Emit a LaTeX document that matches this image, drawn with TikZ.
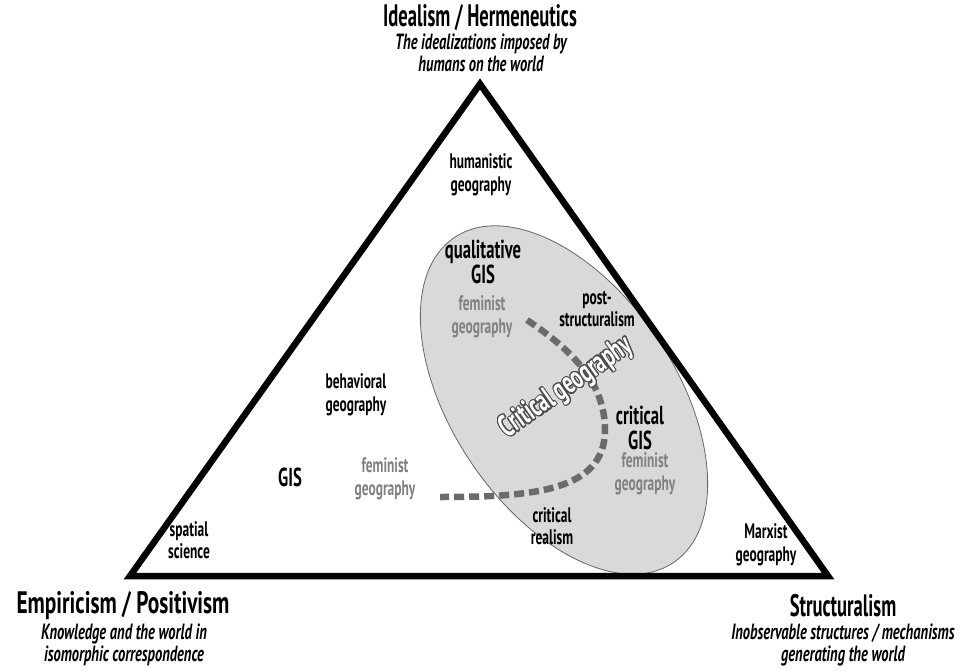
\documentclass[tikz,border=0pt]{standalone}
\usepackage{fontspec}
\setmainfont{PT Sans}[FakeStretch=0.68]
\newfontfamily\polefont{PT Sans}[FakeStretch=0.6]
\newfontfamily\subfont{PT Sans}[FakeStretch=0.66]
\newfontfamily\lblfont{PT Sans}[FakeStretch=0.64]
\usepackage{contour}
\contourlength{1.1pt}
\begin{document}
\begin{tikzpicture}[x=1pt,y=-1pt,
  lbl/.style={align=center,inner sep=0pt,font=\lblfont\fontsize{21}{22.5}\selectfont\bfseries},
  glbl/.style={lbl,text=black!50},
  big/.style={align=center,inner sep=0pt,font=\lblfont\fontsize{26}{25}\selectfont\bfseries},
  pole/.style={align=center,inner sep=0pt,font=\polefont\fontsize{31}{32}\selectfont\bfseries},
  sub/.style={align=center,inner sep=0pt,font=\subfont\fontsize{22}{22}\selectfont\bfseries\itshape},
  cg/.style={line width=6.5pt,draw=black!58,dash pattern=on 10pt off 5pt},
]
\useasboundingbox (0,0) rectangle (972,671);
% ellipse
\draw[fill=black!15,draw=black!60,line width=0.8pt,rotate around={-56:(564,400)}]
  (564,400) ellipse [x radius=196pt, y radius=112pt];
% triangle
\coordinate (A) at (480,84);
\coordinate (B) at (130,576);
\coordinate (C) at (828,576);
\draw[line width=6.5pt,line join=miter] (A) -- (B) -- (C) -- cycle;
% dashed critical geography path
\coordinate (d1) at (527,320);
\coordinate (d2) at (605,430);
\coordinate (d3) at (440,497);
\draw[cg] (d1) .. controls (575,352) and (605,385) .. (d2)
  .. controls (605,492) and (530,497) .. (d3);
% poles
\node[pole] (ideal) at (480,18) {Idealism / Hermeneutics};
\node[sub] (idealsub) at (481,53) {The idealizations imposed by\\humans on the world};
\node[pole] (emp) at (123,606) {\scalebox{1.15}[1]{Empiricism / Positivism}};
\node[sub] (empsub) at (124,645) {Knowledge and the world in\\isomorphic correspondence};
\node[pole] (struct) at (843,606) {Structuralism};
\node[sub] (structsub) at (843,645) {Inobservable structures / mechanisms\\generating the world};
% labels
\node[lbl] (hum) at (481,175) {humanistic\\geography};
\node[big] (qgis) at (483,262) {qualitative\\GIS};
\node[glbl] (fem1) at (482,317) {feminist\\geography};
\node[lbl] (post) at (597,309) {post-\\structuralism};
\node[lbl] (beh) at (356,395) {behavioral\\geography};
\node[big] (cgis) at (640,428) {critical\\GIS};
\node[glbl] (fem2) at (645,474) {feminist\\geography};
\node[big] (gis) at (290,477) {GIS};
\node[glbl] (fem3) at (385,479) {feminist\\geography};
\node[lbl] (creal) at (552,526) {critical\\realism};
\node[lbl] (spat) at (189,540) {spatial\\science};
\node[lbl] (marx) at (766,545) {Marxist\\geography};
\node[inner sep=0pt,rotate=35,font=\lblfont\fontsize{31}{32}\selectfont\bfseries] (crit) at (567,388)
  {\contour{black!70}{\textcolor{white}{Critical geography}}};
\end{tikzpicture}
\end{document}
